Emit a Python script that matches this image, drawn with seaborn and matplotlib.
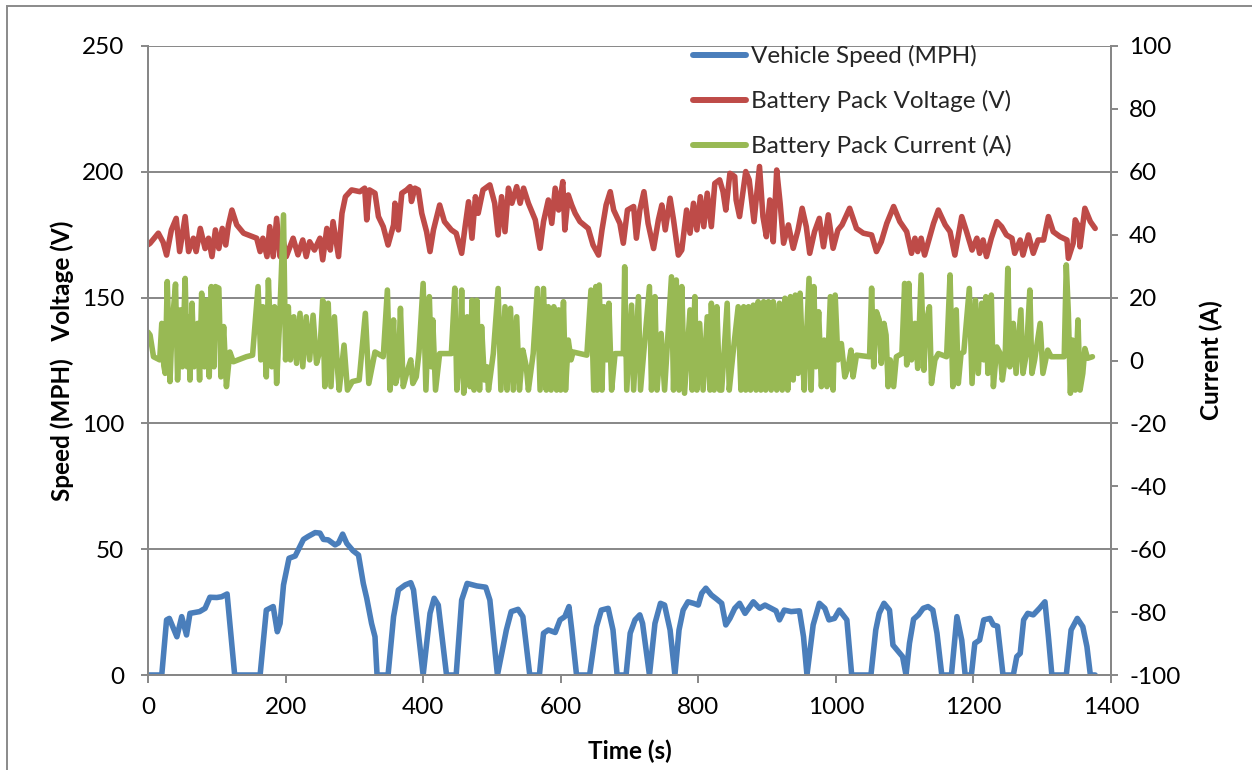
import matplotlib
matplotlib.use("Agg")
import matplotlib.pyplot as plt
import seaborn as sns
from matplotlib.patches import Rectangle
from matplotlib.lines import Line2D

# ---------------- data ----------------
speed_t = [0, 20, 27, 31, 42, 49, 56, 61, 75, 83, 90, 100, 107, 115, 126, 163, 172, 182, 188, 192, 197, 205, 214,
           226, 233, 243, 250, 255, 262, 272, 277, 283, 289, 298, 306, 313, 318, 325, 330, 333, 349, 357, 364, 374,
           382, 386, 400, 410, 416, 422, 434, 448, 456, 464, 478, 491, 497, 508, 521, 528, 538, 545, 555, 569, 575,
           582, 592, 599, 606, 612, 616, 623, 642, 652, 659, 669, 676, 682, 695, 701, 708, 715, 719, 729, 737, 745,
           751, 759, 766, 772, 778, 785, 793, 800, 805, 811, 819, 827, 834, 840, 846, 853, 860, 868, 880, 889, 897,
           906, 913, 918, 925, 935, 947, 953, 958, 967, 976, 984, 990, 998, 1005, 1016, 1023, 1051, 1058, 1063, 1070,
           1078, 1083, 1093, 1097, 1102, 1107, 1113, 1120, 1127, 1134, 1141, 1147, 1154, 1168, 1176, 1183, 1188, 1197,
           1202, 1209, 1215, 1224, 1229, 1235, 1243, 1258, 1263, 1268, 1273, 1279, 1287, 1296, 1304, 1309, 1314, 1335,
           1342, 1351, 1359, 1365, 1370, 1377]
speed_mph = [0, 0, 21.9, 22.5, 15.2, 23.2, 15.9, 24.5, 25.2, 26.5, 30.9, 30.8, 31.1, 32.2, 0, 0, 25.8, 27.2, 17.2,
             20.5, 35.8, 46.4, 47.3, 53.9, 55.1, 56.6, 56.4, 53.9, 53.7, 51.7, 52.5, 56.0, 52.3, 49.4, 47.7, 36.4, 30.5,
             20.5, 15.2, 0, 0, 23.2, 33.8, 35.8, 36.7, 33.8, 0, 24.5, 30.5, 27.8, 0, 0, 29.8, 36.4, 35.4, 34.9, 29.8, 0,
             17.9, 25.2, 26.1, 23.2, 0, 0, 16.6, 17.9, 16.9, 21.9, 23.2, 27.2, 17.9, 0, 0, 19.2, 25.8, 26.5, 17.9, 0, 0,
             16.6, 21.9, 23.9, 20.5, 0, 20.5, 28.5, 27.8, 17.9, 0, 17.9, 25.8, 29.1, 28.5, 27.8, 32.5, 34.5, 31.8, 30.1,
             28.5, 19.9, 22.5, 26.5, 28.5, 24.5, 29.1, 26.5, 27.8, 26.5, 25.5, 21.9, 25.8, 25.2, 25.5, 15.2, 0, 19.9,
             28.5, 26.5, 21.9, 22.5, 25.8, 21.9, 0, 0, 17.9, 24.5, 28.5, 25.8, 11.9, 8.6, 7.3, 0, 12.6, 22.2, 23.9, 26.5,
             27.2, 25.8, 16.6, 0, 0, 23.2, 13.9, 0, 0, 12.6, 13.9, 21.9, 22.5, 19.9, 19.4, 0, 0, 7.3, 8.6, 21.9, 24.5,
             23.9, 26.5, 29.1, 15.2, 0, 0, 17.9, 22.5, 19.2, 11.3, 0, 0]

volt_t = [0, 3, 15, 22, 27, 34, 41, 46, 54, 59, 66, 70, 76, 83, 88, 93, 98, 103, 108, 113, 117, 122, 129, 139, 158,
          163, 167, 173, 177, 182, 187, 192, 196, 201, 211, 218, 225, 230, 235, 242, 250, 254, 260, 265, 269, 277, 282,
          287, 296, 308, 315, 318, 322, 330, 335, 342, 349, 357, 359, 364, 369, 376, 381, 383, 388, 393, 398, 405, 410,
          415, 424, 431, 441, 448, 456, 461, 466, 471, 476, 480, 487, 497, 504, 509, 514, 519, 524, 529, 536, 541, 546,
          553, 563, 570, 575, 582, 587, 592, 597, 603, 606, 611, 616, 621, 628, 640, 647, 655, 660, 666, 672, 677, 686,
          691, 697, 706, 710, 715, 721, 727, 735, 742, 747, 752, 759, 764, 771, 776, 783, 788, 793, 798, 803, 808, 813,
          819, 824, 831, 836, 840, 846, 853, 855, 860, 869, 874, 881, 889, 894, 899, 904, 909, 914, 919, 924, 931, 938,
          945, 951, 957, 962, 969, 976, 982, 989, 996, 1003, 1009, 1020, 1030, 1040, 1052, 1059, 1066, 1074, 1084,
          1093, 1103, 1110, 1115, 1119, 1124, 1129, 1136, 1142, 1149, 1159, 1166, 1173, 1183, 1190, 1198, 1205, 1209,
          1214, 1219, 1226, 1234, 1241, 1248, 1256, 1260, 1268, 1272, 1280, 1287, 1294, 1302, 1309, 1316, 1326, 1336,
          1338, 1345, 1348, 1353, 1355, 1362, 1370, 1377]
volt_v = [171, 171.6, 175.6, 172, 166.9, 176.9, 181.5, 168.3, 182.2, 168.3, 173.6, 168.3, 177.5, 169.5, 173.6, 166.3,
          176.9, 169.5, 177.5, 170.9, 178.9, 184.8, 178.9, 175.6, 173.6, 168.3, 173.6, 166.3, 178.2, 166.3, 181.5,
          166.3, 173.6, 166.3, 173.6, 167, 172.9, 166.3, 172.2, 168.9, 173.6, 165, 177.5, 168.9, 180.2, 166.3, 183.5,
          190.1, 192.8, 192.1, 193.5, 180.9, 192.8, 191.5, 182.2, 178.2, 170.9, 178.9, 187.5, 176.9, 191.5, 192.8,
          194.1, 188.2, 193.5, 192.8, 183.5, 176.2, 168.3, 176.9, 186.8, 180.2, 176.9, 175.6, 167.6, 178.2, 188.1,
          173.6, 190.1, 183.5, 192.8, 194.8, 187.5, 174.9, 190.1, 176.2, 193.5, 187.5, 194.1, 187.5, 193.5, 187.5,
          180.9, 169.6, 180.2, 188.8, 179.5, 193.5, 184.8, 196.1, 176.9, 190.8, 186.8, 183.5, 180.2, 177.5, 170.9,
          166.9, 176.9, 186.8, 192.1, 184.8, 179.5, 171.6, 184.8, 186.2, 173.6, 184.8, 192.1, 179.5, 169.5, 180.9,
          186.8, 176.9, 189.5, 180.9, 166.9, 168.9, 184.8, 175.6, 187.5, 176.9, 190.1, 178.2, 191.5, 178.2, 195.4,
          196.8, 192.1, 184.8, 199.4, 198.1, 188.8, 182.2, 200.1, 196.8, 180.2, 202.1, 182.2, 174.2, 188.8, 172.2,
          200.7, 187.5, 171.6, 178.9, 169.6, 176.9, 185.5, 178.2, 167.6, 176.2, 181.5, 170.2, 182.9, 169.6, 176.9,
          178.9, 185.5, 177.5, 175.6, 174.9, 168.3, 172.2, 179.5, 186.2, 180.2, 176.2, 167.6, 173.6, 168.3, 173.6,
          166.9, 173.6, 179.5, 184.8, 178.9, 176.2, 166.9, 182.2, 176.2, 168.9, 173.6, 167.6, 172.9, 166.3, 173.6,
          180.2, 178.2, 174.9, 173.6, 167.6, 172.9, 166.9, 174.9, 167.6, 172.9, 172.9, 182.2, 176.2, 174.2, 172.9,
          165.6, 171.6, 180.9, 178.2, 170.2, 185.5, 180.2, 177.5]

curr_t = [0, 3, 8, 17, 20, 23, 25, 28, 32, 35, 40, 43, 47, 50, 54, 57, 59, 61, 64, 67, 72, 75, 78, 82, 86, 89, 92, 96,
          98, 103, 106, 110, 114, 119, 124, 143, 152, 160, 164, 167, 172, 175, 180, 184, 187, 191, 197, 200, 204, 207,
          212, 216, 221, 225, 230, 235, 240, 245, 250, 254, 257, 262, 266, 271, 276, 278, 285, 290, 297, 307, 316, 321,
          330, 342, 348, 352, 357, 360, 364, 367, 371, 376, 382, 385, 390, 394, 400, 404, 409, 412, 414, 418, 424, 441,
          446, 449, 454, 456, 459, 464, 468, 471, 474, 478, 482, 485, 489, 493, 495, 502, 509, 513, 519, 522, 527, 531,
          536, 540, 545, 550, 553, 560, 566, 570, 575, 579, 582, 586, 590, 594, 597, 600, 604, 607, 611, 615, 618, 638,
          644, 648, 651, 653, 656, 660, 663, 667, 670, 674, 679, 691, 693, 696, 703, 706, 713, 716, 721, 729, 732, 737,
          740, 746, 751, 761, 764, 768, 772, 776, 780, 788, 791, 795, 798, 802, 807, 813, 817, 819, 823, 827, 831, 834,
          842, 845, 851, 858, 862, 866, 869, 873, 876, 880, 884, 887, 891, 895, 898, 902, 906, 909, 914, 918, 922, 926,
          930, 934, 938, 941, 945, 948, 951, 954, 961, 964, 968, 971, 975, 979, 983, 987, 992, 996, 999, 1003, 1008,
          1013, 1018, 1022, 1025, 1030, 1049, 1052, 1055, 1059, 1063, 1066, 1070, 1073, 1076, 1079, 1084, 1088, 1096,
          1100, 1103, 1106, 1110, 1115, 1119, 1124, 1128, 1131, 1136, 1139, 1144, 1149, 1161, 1166, 1170, 1175, 1178,
          1182, 1186, 1194, 1198, 1203, 1207, 1212, 1215, 1218, 1221, 1226, 1229, 1234, 1239, 1242, 1246, 1250, 1253,
          1258, 1262, 1269, 1272, 1277, 1282, 1285, 1289, 1297, 1301, 1308, 1313, 1332, 1335, 1338, 1341, 1344, 1348,
          1352, 1355, 1359, 1362, 1366, 1373]
curr_a = [9, 8.1, 1.2, 0.2, 11.8, -1.7, -4.1, 25.1, -6.7, 10.8, 24.3, -6.2, 16.1, -2.0, 26.1, -2.0, 13.9, -6.2, 18.2,
          -2.0, 11.8, -6.2, 21.4, -2.0, 19.2, -5.2, 23.5, -2.0, 23.5, 23.0, -5.2, 10.8, -8.3, 2.7, -0.4, 1.2, 1.7, 23.5,
          0.2, 17.1, -5.2, 25.6, -2.0, 17.1, -7.3, 10.8, 46.3, 0.2, 17.1, 0.2, 13.9, -0.9, 15.0, -2.0, 13.9, 0.2, 14.4,
          -0.9, 3.3, 19.2, -8.3, 18.2, -8.3, 13.9, -4.1, -9.4, 4.9, -9.4, -6.7, -6.2, 15.0, -7.3, 2.7, 1.2, 22.4, -9.4,
          12.9, -7.3, -3.6, 16.6, -8.3, -4.1, 0.2, -7.3, -5.2, 2.7, 24.5, -9.4, 20.3, -2.0, 12.9, -9.4, 2.2, 2.2, 23.0,
          -9.4, 4.3, 22.4, -10.4, 13.9, -8.3, 19.2, -9.4, 19.2, -9.4, 10.8, -6.2, -2.0, -9.4, 2.2, 22.9, -9.4, 17.1,
          -9.4, 16.6, -9.4, 13.9, -9.4, 3.3, -2.0, -9.4, 2.2, 22.9, -9.4, 22.9, -9.4, 17.1, -9.4, 17.1, -9.4, 16.1,
          -9.4, 18.7, -9.4, 6.5, 0.2, 2.7, 1.7, 22.4, -9.4, 23.5, -9.4, 24.0, -9.4, 17.1, 0.2, 18.2, -9.4, 2.2, 2.2,
          29.8, -9.4, 17.6, -9.4, 20.3, -9.4, 3.3, 23.5, -9.4, 20.3, -9.4, 8.6, -9.4, 26.6, -9.4, 25.6, -9.4, 23.5,
          -10.4, 16.1, -9.4, 20.3, -9.4, 11.8, -9.4, 13.9, -9.4, 18.2, -9.4, 17.1, -9.4, -9.4, 18.2, -9.4, 3.3, 17.1,
          -9.4, 17.1, -9.4, 17.1, -9.4, 17.6, -9.4, 18.7, -9.4, 18.7, -9.4, 18.7, -9.4, 18.7, -9.4, 18.2, -9.4, 19.8,
          -9.4, 20.3, -6.2, 20.8, -4.1, 21.4, 4.3, -9.4, 26.1, -9.4, 23.5, -2.0, 15.5, -8.3, 6.5, -8.3, 20.3, -9.4,
          20.8, 0.2, 5.4, -5.2, -2.0, 3.3, -5.2, 1.7, 1.2, 23.0, -2.0, 15.5, 12.9, -0.9, 11.8, 8.1, -8.3, 0.2, -8.3,
          1.2, 2.2, 24.5, -1.4, 24.5, 0.2, 11.8, -2.5, 27.2, -3.1, 11.8, 17.1, -7.3, 0.2, 2.2, 1.2, 27.2, -8.3, 16.1,
          -7.3, 2.2, 2.7, 22.9, -7.3, 19.2, -4.1, 18.2, 0.2, 20.3, -4.1, 20.8, -8.3, 4.3, 2.2, -6.2, 0.2, 29.3, -2.0,
          11.8, -4.1, 16.1, -4.1, 2.2, 22.4, -4.1, 0.2, 11.8, -4.1, 3.3, 1.2, 1.2, 30.4, 15.0, -10.4, 6.5, -9.4, 12.9,
          -9.4, -4.1, 3.8, 0.7, 1.2]

x_ticks = [0, 200, 400, 600, 800, 1000, 1200, 1400]
left_ticks = [0, 50, 100, 150, 200, 250]
right_ticks = [-100, -80, -60, -40, -20, 0, 20, 40, 60, 80, 100]

series_names = ["Vehicle Speed (MPH)", "Battery Pack Voltage (V)", "Battery Pack Current (A)"]
series_colors = ["#4A7EBB", "#BE4B48", "#98B954"]

# ---------------- style ----------------
sns.set_theme(style="white")
plt.rcParams["font.family"] = ["Lato", "DejaVu Sans"]
FS = 17.5
GRAY = "#878787"

fig = plt.figure(figsize=(12.52, 7.70), dpi=100)
ax = fig.add_axes([148 / 1252, 1 - 675 / 770, (1111 - 148) / 1252, (675 - 46) / 770])
ax2 = ax.twinx()

LW = 4.0
line_kw = dict(linewidth=LW, estimator=None, sort=False, legend=False,
               solid_joinstyle="round", solid_capstyle="round")
sns.lineplot(x=volt_t, y=volt_v, ax=ax, color=series_colors[1], **line_kw)
sns.lineplot(x=speed_t, y=speed_mph, ax=ax, color=series_colors[0], **line_kw)
sns.lineplot(x=curr_t, y=curr_a, ax=ax2, color=series_colors[2], **line_kw)

ax.set_xlim(0, 1400)
ax.set_ylim(0, 250)
ax2.set_ylim(-100, 100)
ax.set_xticks(x_ticks)
ax.set_yticks(left_ticks)
ax2.set_yticks(right_ticks)
ax.set_xticklabels([str(v) for v in x_ticks])
ax.set_yticklabels([str(v) for v in left_ticks])
ax2.set_yticklabels([str(v) for v in right_ticks])

ax.grid(axis="y", color=GRAY, linewidth=1.4)
ax.grid(axis="x", visible=False)
ax2.grid(False)
for a in (ax, ax2):
    for s in a.spines.values():
        s.set_color(GRAY)
        s.set_linewidth(1.4)
ax.spines["top"].set_visible(False)
ax2.spines["top"].set_visible(False)

ax.tick_params(axis="x", direction="out", length=6, width=1.4, color=GRAY,
               labelsize=FS, pad=10, bottom=True, labelcolor="black")
ax.tick_params(axis="y", direction="out", length=5, width=1.4, color=GRAY,
               labelsize=FS, pad=12, left=True, labelcolor="black")
ax2.tick_params(axis="y", direction="out", length=5, width=1.4, color=GRAY,
                labelsize=FS, pad=8, right=True, labelcolor="black")

ax.set_xlabel("Time (s)", fontsize=FS, fontweight="bold", labelpad=15, color="black")
ax.set_ylabel("Speed (MPH)   Voltage (V)", fontsize=FS, fontweight="bold", labelpad=6, color="black")
ax2.set_ylabel("Current (A)", fontsize=FS, fontweight="bold", labelpad=14, color="black")

handles = [Line2D([], [], color=c, linewidth=LW + 0.3, solid_capstyle="round") for c in series_colors]
fig.legend(handles, series_names, loc="upper left",
           bbox_to_anchor=(693 / 1252, 1 - 45 / 770), bbox_transform=fig.transFigure,
           frameon=False, fontsize=FS, handlelength=2.2, handletextpad=0.18,
           labelspacing=0.95, borderpad=0, borderaxespad=0)

fig.patches.append(Rectangle((7 / 1252, -0.2), 2.0, 1.2 - 6 / 770, transform=fig.transFigure,
                             fill=False, edgecolor="#8a8a8a", linewidth=1.4, zorder=0))

fig.savefig("out.png", dpi=100)
